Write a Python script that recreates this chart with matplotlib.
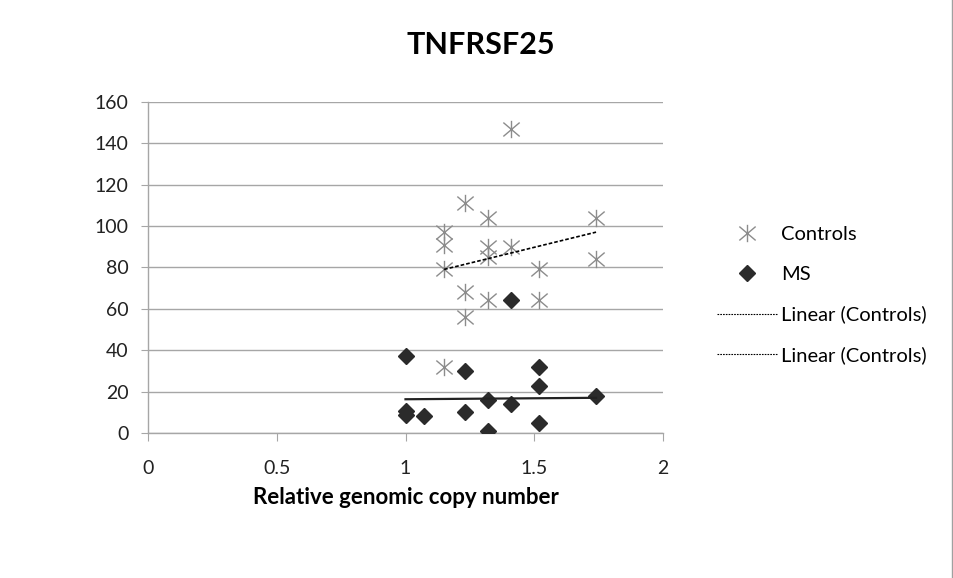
import matplotlib
matplotlib.use("Agg")
import matplotlib.pyplot as plt
from matplotlib.path import Path
from matplotlib.lines import Line2D
import numpy as np

plt.rcParams['font.family'] = ['Lato', 'DejaVu Sans']

title = "TNFRSF25"
xlabel = "Relative genomic copy number"
series_names = ["Controls", "MS", "Linear (Controls)", "Linear (Controls)"]

controls_x = [1.41, 1.23, 1.32, 1.74, 1.15, 1.15, 1.32, 1.41, 1.32, 1.74, 1.15, 1.52, 1.23, 1.32, 1.52, 1.23, 1.15]
controls_y = [147, 111, 104, 104, 97, 91, 90, 90, 85, 84, 79, 79, 68, 64, 64, 56, 32]

ms_x = [1.41, 1.0, 1.23, 1.52, 1.52, 1.74, 1.32, 1.41, 1.0, 1.0, 1.07, 1.23, 1.52, 1.32]
ms_y = [64, 37, 30, 32, 22.5, 18, 16, 14, 10.5, 8.5, 8, 10, 5, 1]

# trend lines as shown in the chart (end points)
controls_trend_x = [1.15, 1.74]
controls_trend_y = [79, 97]
ms_trend_x = [1.0, 1.74]
ms_trend_y = [16.3, 17.0]

xticks = [0, 0.5, 1, 1.5, 2]
xticklabels = ["0", "0.5", "1", "1.5", "2"]
yticks = [0, 20, 40, 60, 80, 100, 120, 140, 160]

fig = plt.figure(figsize=(9.54, 5.78), dpi=100)
ax = fig.add_axes([148/954, 1-433/578, (663-148)/954, (433-101.7)/578])

star = Path([(-0.94, -0.8), (0.94, 0.8), (-0.94, 0.8), (0.94, -0.8), (0, -1.0), (0, 1.0)],
            [Path.MOVETO, Path.LINETO, Path.MOVETO, Path.LINETO, Path.MOVETO, Path.LINETO])

ax.plot(controls_x, controls_y, linestyle='none', marker=star, markersize=12.5,
        markeredgecolor='#8c8c8c', markerfacecolor='none', markeredgewidth=1.0, zorder=3)
ax.plot(ms_x, ms_y, linestyle='none', marker='D', markersize=7.8,
        markeredgecolor='#2b2b2b', markerfacecolor='#2b2b2b', zorder=3)

ax.plot(controls_trend_x, controls_trend_y, color='black', linestyle=(0, (2.2, 1.2)), linewidth=1.2, zorder=4)
ax.plot(ms_trend_x, ms_trend_y, color='#222222', linestyle='-', linewidth=1.6, zorder=4)

ax.set_xlim(0, 2)
ax.set_ylim(0, 160)
ax.set_xticks(xticks)
ax.set_xticklabels(xticklabels)
ax.set_yticks(yticks)
ax.yaxis.grid(True, color='#a6a6a6', linewidth=1.0)
ax.set_axisbelow(True)
for s in ['top', 'right']:
    ax.spines[s].set_visible(False)
for s in ['left', 'bottom']:
    ax.spines[s].set_color('#a6a6a6')
    ax.spines[s].set_linewidth(1.0)
ax.tick_params(axis='both', colors='#a6a6a6', labelcolor='#222222', labelsize=14, direction='out')
ax.tick_params(axis='y', length=5.2, pad=9)
ax.tick_params(axis='x', length=5.5, pad=14)

fig.text(481/954, 1-45/578, title, ha='center', va='center', fontsize=22, fontweight='bold', color='black')
fig.text(406/954, 1-497/578, xlabel, ha='center', va='center', fontsize=16, fontweight='bold', color='black')

handles = [
    Line2D([], [], linestyle='none', marker=star, markersize=12.5, markeredgecolor='#8c8c8c', markerfacecolor='none'),
    Line2D([], [], linestyle='none', marker='D', markersize=7.8, markeredgecolor='#2b2b2b', markerfacecolor='#2b2b2b'),
    Line2D([], [], color='black', linestyle=(0, (1.5, 1)), linewidth=0.8),
    Line2D([], [], color='black', linestyle=(0, (1.5, 1)), linewidth=0.8),
]
fig.legend(handles, series_names, loc='upper left', bbox_to_anchor=(717/954, 1-226/578),
           frameon=False, fontsize=14.5, handlelength=3.0, labelspacing=1.13,
           handletextpad=0.2, borderpad=0, borderaxespad=0)

fig.add_artist(Line2D([952/954, 952/954], [0, 1], transform=fig.transFigure,
                      color='#a0a0a0', linewidth=1.0))

fig.savefig('out.png', dpi=100)
